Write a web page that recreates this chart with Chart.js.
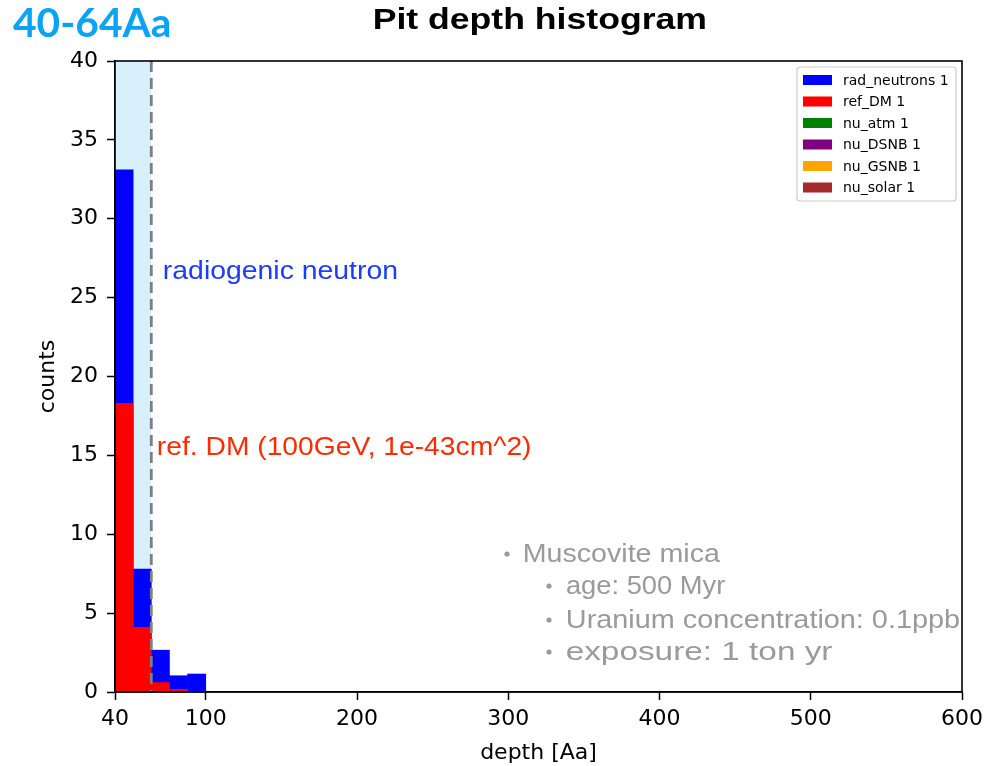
<!DOCTYPE html>
<html>
<head>
<meta charset="utf-8">
<script src="https://cdn.jsdelivr.net/npm/chart.js@4.4.0/dist/chart.umd.min.js"></script>
<style>
  html, body { margin: 0; padding: 0; background: #ffffff; }
  #wrap { width: 986px; height: 766px; position: relative; }
</style>
</head>
<body>
<div id="wrap"><canvas id="c" width="986" height="766"></canvas></div>
<script>
// Histogram bins (depth in Aa) and counts per source
const binEdges   = [40, 52, 64, 76, 88, 100];
const radNeutrons = [33.1, 7.8, 2.65, 1.03, 1.14];
const refDM       = [18.3, 4.1, 0.6, 0.17, 0];
const nuAtm       = [0, 0, 0, 0, 0];
const nuDSNB      = [0, 0, 0, 0, 0];
const nuGSNB      = [0, 0, 0, 0, 0];
const nuSolar     = [0, 0, 0, 0, 0];

const seriesLabels = ['rad_neutrons 1', 'ref_DM 1', 'nu_atm 1', 'nu_DSNB 1', 'nu_GSNB 1', 'nu_solar 1'];
const seriesColors = ['#0000ff', '#ff0000', '#008000', '#800080', '#ffa500', '#a52a2a'];

const xTicks = [40, 100, 200, 300, 400, 500, 600];
const yTicks = [0, 5, 10, 15, 20, 25, 30, 35, 40];

// Selected depth window
const depthWindow = [40, 64];

const titleText   = 'Pit depth histogram';
const windowText  = '40-64Aa';
const neutronNote = 'radiogenic neutron';
const dmNote      = 'ref. DM (100GeV, 1e-43cm^2)';
const infoLines   = ['Muscovite mica', 'age: 500 Myr', 'Uranium concentration: 0.1ppb', 'exposure: 1 ton yr'];

const binCenters = binEdges.slice(0, -1).map((e, i) => (e + binEdges[i + 1]) / 2);
const toPoints = vals => vals.map((v, i) => ({ x: binCenters[i], y: v }));

const allSeries = [radNeutrons, refDM, nuAtm, nuDSNB, nuGSNB, nuSolar];
const drawOrder = [1, 0, 2, 2, 2, 2];

const datasets = allSeries.map((vals, i) => ({
  label: seriesLabels[i],
  data: toPoints(vals),
  backgroundColor: seriesColors[i],
  borderWidth: 0,
  barPercentage: 1.0,
  categoryPercentage: 1.0,
  grouped: false,
  order: drawOrder[i]
}));

// Text fitted so its ink spans a given width
function fitText(ctx, text, x, y, width, font, color) {
  ctx.save();
  ctx.font = font;
  ctx.fillStyle = color;
  ctx.textAlign = 'left';
  ctx.textBaseline = 'alphabetic';
  const m = ctx.measureText(text);
  const ink = m.actualBoundingBoxLeft + m.actualBoundingBoxRight;
  const sx = width / ink;
  ctx.translate(x, y);
  ctx.scale(sx, 1);
  ctx.fillText(text, m.actualBoundingBoxLeft, 0);
  ctx.restore();
}

const decorations = {
  id: 'decorations',
  beforeDatasetsDraw(chart) {
    const { ctx, chartArea: a, scales: { x } } = chart;
    const x0 = x.getPixelForValue(depthWindow[0]);
    const x1 = x.getPixelForValue(depthWindow[1]);
    ctx.save();
    ctx.fillStyle = 'rgb(216,239,252)';
    ctx.fillRect(x0, a.top, x1 - x0, a.bottom - a.top);
    ctx.restore();
  },
  afterDatasetsDraw(chart) {
    const { ctx, chartArea: a, scales: { x } } = chart;
    const xc = x.getPixelForValue(depthWindow[1]);

    // dashed cut line
    ctx.save();
    ctx.strokeStyle = '#7f7f7f';
    ctx.lineWidth = 2.8;
    ctx.setLineDash([11, 6]);
    ctx.beginPath();
    ctx.moveTo(xc, a.top);
    ctx.lineTo(xc, a.bottom);
    ctx.stroke();
    ctx.restore();

    // axes frame
    ctx.save();
    ctx.strokeStyle = '#000000';
    ctx.lineWidth = 1.6;
    ctx.strokeRect(a.left, a.top, a.right - a.left, a.bottom - a.top);
    ctx.restore();

    // legend
    ctx.save();
    const lx = 797, ly = 67, lw = 159, lh = 134;
    ctx.fillStyle = 'rgba(255,255,255,0.85)';
    ctx.strokeStyle = '#cccccc';
    ctx.lineWidth = 1.2;
    ctx.beginPath();
    ctx.roundRect(lx, ly, lw, lh, 3);
    ctx.fill();
    ctx.stroke();
    ctx.font = '14px "DejaVu Sans"';
    ctx.textBaseline = 'middle';
    ctx.textAlign = 'left';
    chart.data.datasets.forEach((ds, i) => {
      const cy = 80 + i * 21.5;
      ctx.fillStyle = ds.backgroundColor;
      ctx.fillRect(803, cy - 5, 29, 10);
      ctx.fillStyle = '#000000';
      ctx.fillText(ds.label, 843, cy + 1);
    });
    ctx.restore();

    // axis titles
    ctx.save();
    ctx.fillStyle = '#000000';
    ctx.font = '22px "DejaVu Sans"';
    ctx.textAlign = 'center';
    ctx.textBaseline = 'alphabetic';
    ctx.fillText('depth [Aa]', (a.left + a.right) / 2, 759);
    ctx.translate(54, (a.top + a.bottom) / 2);
    ctx.rotate(-Math.PI / 2);
    ctx.fillText('counts', 0, 0);
    ctx.restore();

    // headings and notes
    fitText(ctx, titleText, 375, 29, 330, 'bold 30px "Liberation Sans"', '#000000');
    fitText(ctx, windowText, 13, 37, 157, 'bold 40px "Lato"', '#0aa3f5');
    fitText(ctx, neutronNote, 164, 279, 233, '25px "Liberation Sans"', '#1a3cff');
    fitText(ctx, dmNote, 158, 455, 372, '25px "Liberation Sans"', '#ff2a00');

    const grey = '#9a9a9a';
    const rows = [
      { bx: 507, tx: 525, y: 562, w: 195 },
      { bx: 549, tx: 567, y: 594, w: 158 },
      { bx: 549, tx: 567, y: 628, w: 392 },
      { bx: 549, tx: 567, y: 660, w: 265 }
    ];
    rows.forEach((r, i) => {
      ctx.save();
      ctx.fillStyle = grey;
      ctx.beginPath();
      ctx.arc(r.bx, r.y - 8, 2.6, 0, Math.PI * 2);
      ctx.fill();
      ctx.restore();
      fitText(ctx, infoLines[i], r.tx, r.y, r.w, '25px "Liberation Sans"', grey);
    });
  }
};

const tickFont = { family: 'DejaVu Sans', size: 22 };

new Chart(document.getElementById('c'), {
  type: 'bar',
  data: { datasets },
  options: {
    responsive: false,
    animation: false,
    devicePixelRatio: 1,
    layout: { padding: { top: 61, right: 24, left: 0, bottom: 0 } },
    plugins: {
      legend: { display: false },
      tooltip: { enabled: false },
      title: { display: false }
    },
    scales: {
      x: {
        type: 'linear',
        min: xTicks[0],
        max: xTicks[xTicks.length - 1],
        offset: false,
        afterBuildTicks: s => { s.ticks = xTicks.map(v => ({ value: v })); },
        afterFit: s => { s.height = 74; s.paddingLeft = 0; s.paddingRight = 0; },
        grid: { display: true, drawOnChartArea: false, drawTicks: true, tickLength: 8, tickColor: '#000', tickWidth: 1.5, offset: false },
        border: { display: true, color: '#000', width: 1.6 },
        ticks: { font: tickFont, color: '#000', padding: 6, maxRotation: 0, autoSkip: false }
      },
      y: {
        type: 'linear',
        min: yTicks[0],
        max: yTicks[yTicks.length - 1],
        afterBuildTicks: s => { s.ticks = yTicks.map(v => ({ value: v })); },
        afterFit: s => { s.width = 115; s.paddingTop = 0; s.paddingBottom = 0; },
        grid: { display: true, drawOnChartArea: false, drawTicks: true, tickLength: 8, tickColor: '#000', tickWidth: 1.5 },
        border: { display: true, color: '#000', width: 1.6 },
        ticks: { font: tickFont, color: '#000', padding: 9 }
      }
    }
  },
  plugins: [decorations]
});
</script>
</body>
</html>
